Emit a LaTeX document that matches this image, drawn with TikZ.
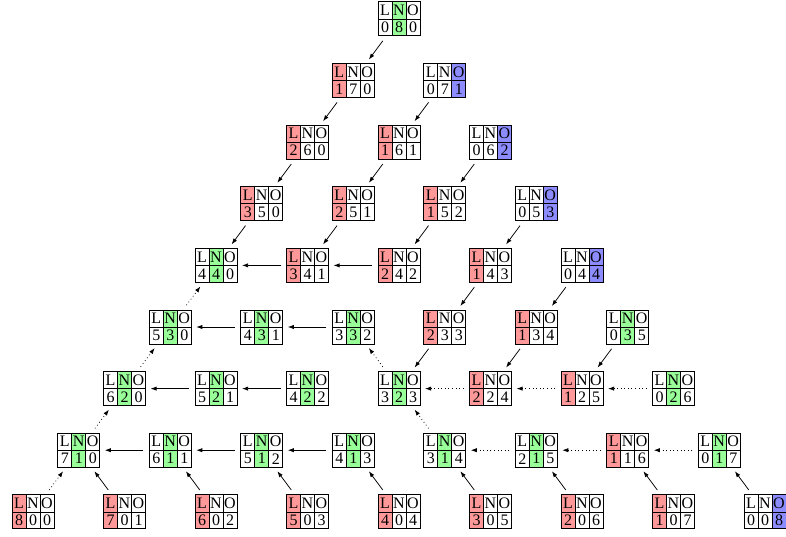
\documentclass[tikz,border=0pt]{standalone}
\usepackage{fontspec}
\setmainfont{Liberation Serif}
\usetikzlibrary{calc,arrows.meta}
\colorlet{hiL}{red!40}
\colorlet{hiN}{green!40}
\colorlet{hiO}{blue!45}
\tikzset{
  lnobox/.style={rectangle,minimum width=42pt,minimum height=34pt,inner sep=0pt,outer sep=0pt},
  gridline/.style={line width=0.6pt,black},
  outerline/.style={line width=1pt,black},
  txt/.style={inner sep=0pt,font=\fontsize{16}{16}\selectfont},
  sarr/.style={line width=0.75pt,-{Latex[length=6pt,width=4.2pt]},shorten >=5pt,shorten <=6pt},
  darr/.style={sarr,dash pattern=on 0.8pt off 2.8pt}
}
\newcommand\lno[3]{%
  \pgfmathtruncatemacro\lnoL{#1-#2}%
  \pgfmathtruncatemacro\lnoN{8-#1}%
  \pgfmathtruncatemacro\lnoO{#2}%
  \edef\lnoname{n\lnoL\lnoN\lnoO}%
  \ifcase#3 \def\lnocol{hiL}\or \def\lnocol{hiN}\else \def\lnocol{hiO}\fi
  \node[lnobox] (\lnoname) at ({399+(#2-#1/2)*91.5},{517-61.6*#1}) {};
  \fill[fill=\lnocol] ($(\lnoname.north west)+(#3*14,0)$) rectangle ++(14,-34);
  \draw[gridline] (\lnoname.west) -- (\lnoname.east);
  \draw[gridline] ($(\lnoname.north west)+(14,0)$) -- ($(\lnoname.south west)+(14,0)$);
  \draw[gridline] ($(\lnoname.north west)+(28,0)$) -- ($(\lnoname.south west)+(28,0)$);
  \draw[outerline] (\lnoname.north west) rectangle (\lnoname.south east);
  \node[txt] at ($(\lnoname.north west)+(7,-8.5)$) {L};
  \node[txt] at ($(\lnoname.north west)+(21,-8.5)$) {N};
  \node[txt] at ($(\lnoname.north west)+(35,-8.5)$) {O};
  \node[txt] at ($(\lnoname.north west)+(7,-25.5)$) {\lnoL};
  \node[txt] at ($(\lnoname.north west)+(21,-25.5)$) {\lnoN};
  \node[txt] at ($(\lnoname.north west)+(35,-25.5)$) {\lnoO};
}
\begin{document}
\begin{tikzpicture}[x=1pt,y=1pt]
\useasboundingbox (0,0) rectangle (786,536);
\foreach \r/\k/\c in {
  0/0/1,
  1/0/0, 1/1/2,
  2/0/0, 2/1/0, 2/2/2,
  3/0/0, 3/1/0, 3/2/0, 3/3/2,
  4/0/1, 4/1/0, 4/2/0, 4/3/0, 4/4/2,
  5/0/1, 5/1/1, 5/2/1, 5/3/0, 5/4/0, 5/5/1,
  6/0/1, 6/1/1, 6/2/1, 6/3/1, 6/4/0, 6/5/0, 6/6/1,
  7/0/1, 7/1/1, 7/2/1, 7/3/1, 7/4/1, 7/5/1, 7/6/0, 7/7/1,
  8/0/0, 8/1/0, 8/2/0, 8/3/0, 8/4/0, 8/5/0, 8/6/0, 8/7/0, 8/8/2}
  {\lno{\r}{\k}{\c}}
% solid down-left
\foreach \a/\b in {080/170, 170/260, 071/161, 260/350, 161/251, 062/152,
  350/440, 251/341, 152/242, 053/143, 143/233, 044/134, 233/323, 134/224, 035/125}
  {\draw[sarr] (n\a) -- (n\b);}
% solid horizontal
\foreach \a/\b in {341/440, 242/341, 431/530, 332/431, 521/620, 422/521,
  611/710, 512/611, 413/512}
  {\draw[sarr] (n\a) -- (n\b);}
% dotted
\foreach \a/\b in {224/323, 125/224, 026/125, 215/314, 116/215, 017/116,
  530/440, 620/530, 710/620, 800/710, 323/332, 314/323}
  {\draw[darr] (n\a) -- (n\b);}
% solid up from bottom row
\foreach \a/\b in {701/710, 602/611, 503/512, 404/413, 305/314, 206/215, 107/116, 008/017}
  {\draw[sarr] (n\a) -- (n\b);}
\end{tikzpicture}
\end{document}
